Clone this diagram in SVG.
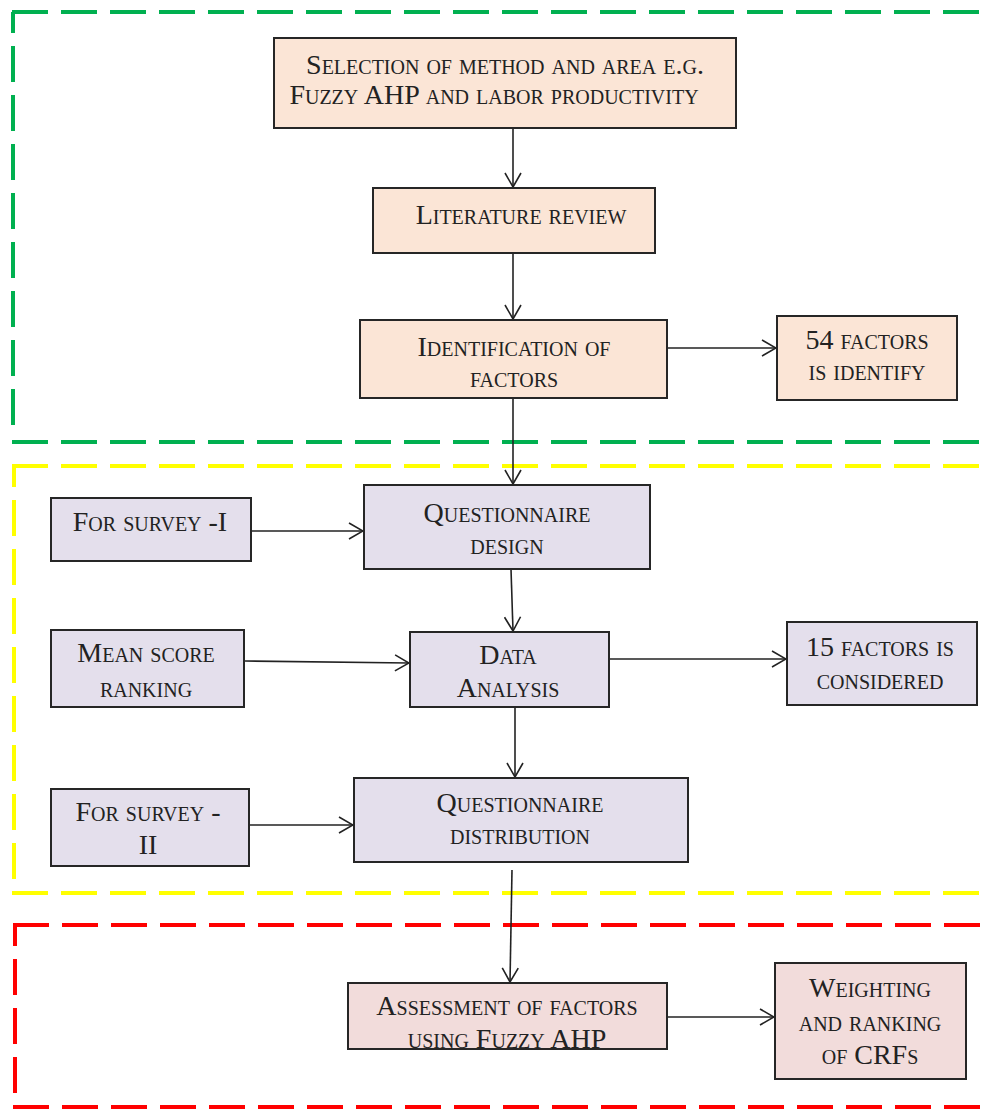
<svg xmlns="http://www.w3.org/2000/svg" width="992" height="1110" viewBox="0 0 992 1110">
<style>
.bx{stroke:#262626;stroke-width:2}
.p{fill:#fbe5d6}
.l{fill:#e4dfec}
.r{fill:#f2dcdb}
.t{font-family:"Liberation Serif",serif;font-variant:small-caps;font-size:28px;fill:#222;text-anchor:middle}
.c{stroke:#222;stroke-width:1.6;fill:none}
.d{fill:none;stroke-width:4;stroke-dasharray:36 13}
.v{stroke-dashoffset:15}
</style>
<defs>
<marker id="ah" viewBox="0 0 16 18" refX="15" refY="9" markerWidth="16" markerHeight="18" markerUnits="userSpaceOnUse" orient="auto">
<path d="M1,1 L15,9 L1,17" fill="none" stroke="#222" stroke-width="1.6"/>
</marker>
</defs>
<g id="regions">
<path class="d" stroke="#00b050" d="M12,12 H992 M12,442 H992"/>
<path class="d v" stroke="#00b050" d="M13,12 V425"/>
<path class="d" stroke="#ffff00" d="M12,466 H992 M12,893 H992"/>
<path class="d v" stroke="#ffff00" d="M14,466 V880"/>
<path class="d" stroke="#ff0000" d="M13,925 H992 M13,1107 H992"/>
<path class="d v" stroke="#ff0000" d="M15,925 V1095"/>
</g>
<g id="connectors">
<path class="c" marker-end="url(#ah)" d="M513,128 V187"/>
<path class="c" marker-end="url(#ah)" d="M513,253 V319"/>
<path class="c" marker-end="url(#ah)" d="M667,348 H776"/>
<path class="c" marker-end="url(#ah)" d="M513,398 V484"/>
<path class="c" marker-end="url(#ah)" d="M252,531 H363"/>
<path class="c" marker-end="url(#ah)" d="M511,569 L513,631"/>
<path class="c" marker-end="url(#ah)" d="M245,661 L409,663"/>
<path class="c" marker-end="url(#ah)" d="M609,659 H786"/>
<path class="c" marker-end="url(#ah)" d="M515,707 V777"/>
<path class="c" marker-end="url(#ah)" d="M249,825 H353"/>
<path class="c" marker-end="url(#ah)" d="M512,870 L510,982"/>
<path class="c" marker-end="url(#ah)" d="M667,1017 H774"/>
</g>
<g id="n1"><rect class="bx p" x="274" y="38" width="462" height="90"/>
<text class="t" x="505" y="74">Selection of method and area e.g.</text>
<text class="t" x="494" y="104">Fuzzy AHP and labor productivity</text></g>
<g id="n2"><rect class="bx p" x="373" y="188" width="282" height="65"/>
<text class="t" x="521" y="224">Literature review</text></g>
<g id="n3"><rect class="bx p" x="360" y="320" width="307" height="78"/>
<text class="t" x="514" y="356">Identification of</text>
<text class="t" x="514" y="387">factors</text></g>
<g id="n4"><rect class="bx p" x="777" y="316" width="180" height="84"/>
<text class="t" x="867" y="349">54 factors</text>
<text class="t" x="867" y="380">is identify</text></g>
<g id="n5"><rect class="bx l" x="51" y="498" width="200" height="63"/>
<text class="t" x="150" y="531">For survey -I</text></g>
<g id="n6"><rect class="bx l" x="364" y="485" width="286" height="84"/>
<text class="t" x="507" y="522">Questionnaire</text>
<text class="t" x="507" y="554">design</text></g>
<g id="n7"><rect class="bx l" x="51" y="630" width="193" height="77"/>
<text class="t" x="146" y="662">Mean score</text>
<text class="t" x="146" y="697">ranking</text></g>
<g id="n8"><rect class="bx l" x="410" y="632" width="199" height="75"/>
<text class="t" x="508" y="664">Data</text>
<text class="t" x="508" y="697">Analysis</text></g>
<g id="n9"><rect class="bx l" x="787" y="622" width="190" height="83"/>
<text class="t" x="880" y="656">15 factors is</text>
<text class="t" x="880" y="689">considered</text></g>
<g id="n10"><rect class="bx l" x="51" y="789" width="198" height="77"/>
<text class="t" x="148" y="821">For survey -</text>
<text class="t" x="148" y="854">II</text></g>
<g id="n11"><rect class="bx l" x="354" y="778" width="334" height="84"/>
<text class="t" x="520" y="812">Questionnaire</text>
<text class="t" x="520" y="844">distribution</text></g>
<g id="n12"><rect class="bx r" x="348" y="983" width="319" height="66"/>
<text class="t" x="507" y="1015">Assessment of factors</text>
<text class="t" x="507" y="1048">using Fuzzy AHP</text></g>
<g id="n13"><rect class="bx r" x="775" y="963" width="191" height="116"/>
<text class="t" x="870" y="997">Weighting</text>
<text class="t" x="870" y="1031">and ranking</text>
<text class="t" x="870" y="1064">of CRFs</text></g>
</svg>
